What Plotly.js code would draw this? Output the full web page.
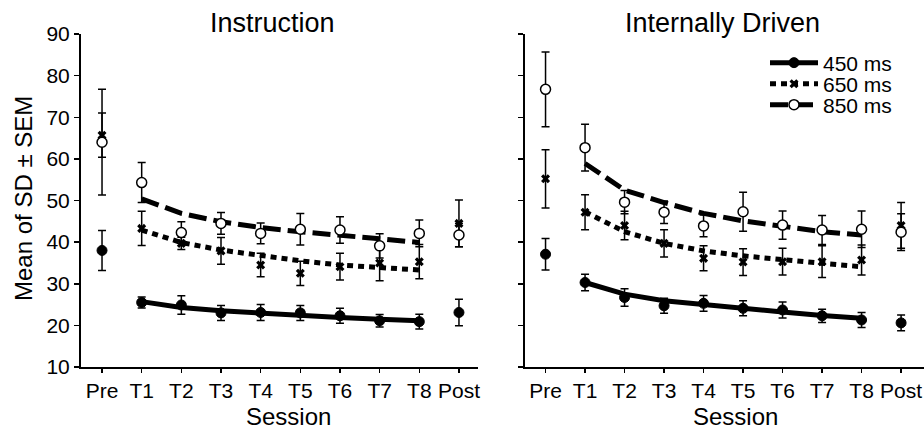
<!DOCTYPE html>
<html>
<head>
<meta charset="utf-8">
<script src="https://cdn.plot.ly/plotly-3.0.1.min.js"></script>
<style>html,body{margin:0;padding:0;background:#fff;}#chart{width:924px;height:429px;}</style>
</head>
<body>
<div id="chart"></div>
<script>
// ---- data ----
var sessions = ['Pre','T1','T2','T3','T4','T5','T6','T7','T8','Post'];
var fitSessions = ['T1','T2','T3','T4','T5','T6','T7','T8'];
var yTicks = [10,20,30,40,50,60,70,80,90];

// Instruction panel
var ins450    = [38.0, 25.5, 24.9, 23.0, 23.1, 23.0, 22.3, 21.1, 20.9, 23.1];
var ins450err = [4.8, 1.3, 2.2, 1.8, 1.9, 1.8, 1.8, 1.5, 1.8, 3.2];
var ins650    = [65.7, 43.3, 39.7, 37.9, 34.5, 32.5, 34.1, 35.0, 35.3, 44.5];
var ins650err = [5.3, 4.1, 1.5, 3.2, 2.8, 2.9, 3.2, 4.3, 4.1, 5.6];
var ins850    = [64.0, 54.3, 42.3, 44.5, 42.1, 43.1, 42.9, 39.1, 42.1, 41.7];
var ins850err = [12.7, 4.8, 2.6, 2.6, 2.5, 3.8, 3.2, 2.9, 3.2, 2.8];
var insFit450 = [25.7, 24.3, 23.5, 22.9, 22.3, 21.9, 21.5, 21.1];
var insFit650 = [42.9, 39.9, 38.1, 36.7, 35.5, 34.5, 33.9, 33.3];
var insFit850 = [50.4, 46.9, 44.9, 43.5, 42.5, 41.5, 40.8, 39.9];

// Internally Driven panel
var int450    = [37.1, 30.3, 26.7, 24.7, 25.3, 24.1, 23.7, 22.3, 21.3, 20.6];
var int450err = [3.8, 2.0, 2.1, 1.8, 1.9, 1.8, 1.9, 1.6, 1.8, 1.9];
var int650    = [55.2, 47.2, 44.0, 39.7, 36.1, 35.2, 35.3, 35.3, 35.7, 44.0];
var int650err = [7.0, 4.2, 3.4, 3.3, 3.0, 3.2, 3.2, 3.8, 3.6, 5.5];
var int850    = [76.7, 62.7, 49.6, 47.2, 43.9, 47.3, 44.1, 42.9, 43.1, 42.4];
var int850err = [9.0, 5.6, 2.8, 2.7, 2.6, 4.7, 3.4, 3.5, 4.4, 4.4];
var intFit450 = [30.3, 27.5, 25.9, 24.9, 24.0, 23.2, 22.4, 21.7];
var intFit650 = [47.3, 42.5, 39.7, 37.9, 36.7, 35.7, 34.9, 34.1];
var intFit850 = [58.9, 52.5, 49.5, 46.9, 45.1, 43.7, 42.5, 41.7];

var seriesNames = ['450 ms','650 ms','850 ms'];

// ---- styles ----
var FONT = 'Liberation Sans, Arial, sans-serif';
var lineStyles = [
  {color:'black', width:5, dash:'solid'},
  {color:'black', width:5, dash:'6px,5px'},
  {color:'black', width:5, dash:'18px,7px'}
];
var markerStyles = [
  {symbol:'circle', size:10, color:'black', line:{color:'black', width:1}},
  {symbol:'x', size:8, color:'black', line:{color:'black', width:0}},
  {symbol:'circle', size:10, color:'white', line:{color:'black', width:1.5}}
];
function errBar(arr){ return {type:'data', array:arr, visible:true, color:'black', thickness:1.5, width:4}; }

var traces = [];
function addPanel(xa, ya, fits, vals, errs){
  for (var i=0;i<3;i++){
    traces.push({type:'scatter', mode:'lines', x:fitSessions, y:fits[i], xaxis:xa, yaxis:ya,
      line:lineStyles[i], showlegend:false, hoverinfo:'skip'});
  }
  var order = [1,2,0];
  order.forEach(function(i){
    traces.push({type:'scatter', mode:'markers', x:sessions, y:vals[i], xaxis:xa, yaxis:ya,
      marker:markerStyles[i], error_y:errBar(errs[i]), showlegend:false, cliponaxis:false});
  });
}
addPanel('x','y',[insFit450,insFit650,insFit850],[ins450,ins650,ins850],[ins450err,ins650err,ins850err]);
addPanel('x2','y2',[intFit450,intFit650,intFit850],[int450,int650,int850],[int450err,int650err,int850err]);

// legend entries (one legend each for exact spacing)
var legendIds = ['legend','legend2','legend3'];
for (var i=0;i<3;i++){
  traces.push({type:'scatter', mode:'lines+markers', x:[null], y:[null], xaxis:'x2', yaxis:'y2',
    name:seriesNames[i], line:lineStyles[i], marker:markerStyles[i], legend:legendIds[i], showlegend:true});
}

var W=924, H=429;
var yDomain = [(H-367)/H, (H-34)/H];
function xaxis(domain, range){
  return {domain:domain, range:range, type:'category', categoryorder:'array', categoryarray:sessions,
    showgrid:false, zeroline:false,
    showline:true, linecolor:'black', linewidth:2, ticks:'outside', ticklen:4, tickwidth:1.5,
    tickcolor:'black', tickfont:{family:FONT, size:21, color:'black'}, fixedrange:true};
}
function yaxis(anchor, showLabels){
  return {domain:yDomain, range:[10,90], anchor:anchor, tickvals:yTicks, showgrid:false, zeroline:false,
    showline:true, linecolor:'black', linewidth:2, ticks:'outside', ticklen:5, tickwidth:1.5,
    tickcolor:'black', showticklabels:showLabels, tickfont:{family:FONT, size:21, color:'black'}, fixedrange:true};
}
function legendCfg(yPix){
  return {x:765/W, y:(H-yPix)/H, xanchor:'left', yanchor:'middle', bgcolor:'rgba(0,0,0,0)',
    font:{family:FONT, size:21, color:'black'}, itemwidth:48, borderwidth:0};
}

var layout = {
  width:W, height:H, margin:{l:0,r:0,t:0,b:0}, paper_bgcolor:'white', plot_bgcolor:'white',
  font:{family:FONT, color:'black'},
  xaxis: xaxis([81/W, 478/W], [-0.53, 9.48]),
  yaxis: yaxis('x', true),
  xaxis2: Object.assign(xaxis([525/W, 1], [-0.52, 9.58]), {anchor:'y2'}),
  yaxis2: yaxis('x2', false),
  legend: legendCfg(63), legend2: legendCfg(84), legend3: legendCfg(105),
  annotations: [
    {text:'Instruction', x:272/W, y:(H-23)/H, xref:'paper', yref:'paper', showarrow:false, xanchor:'center', yanchor:'middle', font:{family:FONT, size:27, color:'black'}},
    {text:'Internally Driven', x:722/W, y:(H-23)/H, xref:'paper', yref:'paper', showarrow:false, xanchor:'center', yanchor:'middle', font:{family:FONT, size:27, color:'black'}},
    {text:'Session', x:288/W, y:(H-416)/H, xref:'paper', yref:'paper', showarrow:false, xanchor:'center', yanchor:'middle', font:{family:FONT, size:24, color:'black'}},
    {text:'Session', x:735/W, y:(H-416)/H, xref:'paper', yref:'paper', showarrow:false, xanchor:'center', yanchor:'middle', font:{family:FONT, size:24, color:'black'}},
    {text:'Mean of SD \u00b1 SEM', x:24/W, y:(H-199)/H, xref:'paper', yref:'paper', showarrow:false, xanchor:'center', yanchor:'middle', textangle:-90, font:{family:FONT, size:24, color:'black'}}
  ]
};
Plotly.newPlot('chart', traces, layout, {displayModeBar:false, staticPlot:true});
</script>
</body>
</html>
